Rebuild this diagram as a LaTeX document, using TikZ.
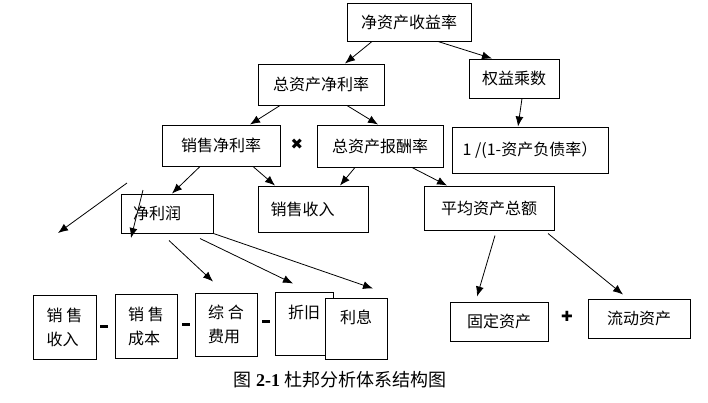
\documentclass[tikz,border=0pt]{standalone}
\usepackage{fontspec}
\setmainfont{Noto Sans CJK SC}
\newfontfamily\symfont{DejaVu Sans}
\newfontfamily\numfont{Liberation Serif}
\usetikzlibrary{arrows.meta}
\tikzset{edge/.style = {->,> = {Latex[length=10pt,width=8pt]}, line width=0.8pt}}

\begin{document}
\begin{tikzpicture}[x=1pt, y=-1pt,
  box/.style={draw, line width=1pt, inner sep=0pt, font=\fontsize{16}{19}\selectfont},
  left box/.style={box, align=left, inner xsep=12pt, text width=#1},
  tall box/.style={box, align=left, font=\fontsize{16}{24}\selectfont},
  op/.style={inner sep=0pt}]
  \useasboundingbox (0,0) rectangle (708,402);

  % top levels
  \node[box, minimum width=124, minimum height=38] (roe) at (409,22) {净资产收益率};
  \node[box, minimum width=126, minimum height=41] (zcjl) at (321,84.5) {总资产净利率};
  \node[box, minimum width=90, minimum height=39] (qycs) at (514,78.5) {权益乘数};
  \node[box, minimum width=118, minimum height=41] (xsjl) at (221,145.5) {销售净利率};
  \node[box, minimum width=126, minimum height=42] (zcbc) at (380,146) {总资产报酬率};
  \node[box, minimum width=156, minimum height=46] (fzl) at (530,150) {1 /(1-资产负债率）};
  \node[left box=85, minimum width=110, minimum height=46] (xssr) at (313,209) {销售收入};
  \node[box, minimum width=130, minimum height=44] (pjzc) at (489,208) {平均资产总额};
  \node[left box=68, minimum width=92, minimum height=39] (jlr) at (167,213.5) {净利润};

  % bottom row
  \node[tall box, minimum width=63, minimum height=64] (b1) at (64.5,327) {销 售\\收入};
  \node[tall box, minimum width=62, minimum height=64] (b2) at (146,326) {销 售\\成本};
  \node[tall box, minimum width=62, minimum height=63] (b3) at (226,324.5) {综 合\\费用};
  \node[tall box, minimum width=58, minimum height=63] (b4) at (304,323.5) {折旧\\ \mbox{}};
  \node[tall box, fill=white, minimum width=62, minimum height=61] (b5) at (356,328.5) {利息\\ \mbox{}};
  \node[box, minimum width=98, minimum height=39] (gdzc) at (499,321.5) {固定资产};
  \node[box, minimum width=102, minimum height=39] (ldzc) at (639,318.5) {流动资产};

  % operators
  \node[op] (m1) at (104,326) {\rule{8pt}{3pt}};
  \node[op] (m2) at (186,324) {\rule{8pt}{3pt}};
  \node[op] (m3) at (266,321) {\rule{8pt}{3pt}};
  \node[op, font=\symfont\fontsize{15}{15}\selectfont] (times) at (297,144) {✖};
  \node[op, font=\symfont\fontsize{14}{14}\selectfont] (plus) at (567,316) {✚};

  % arrows
  \draw[edge] ([xshift=-37pt]roe.south) -- ([xshift=24pt]zcjl.north);
  \draw[edge] ([xshift=29pt]roe.south) -- ([xshift=-22pt]qycs.north);
  \draw[edge] ([xshift=-41pt]zcjl.south) -- ([xshift=29pt]xsjl.north);
  \draw[edge] ([xshift=26pt]zcjl.south) -- ([xshift=-2pt]zcbc.north);
  \draw[edge] ([xshift=8pt]qycs.south) -- ([xshift=-12pt]fzl.north);
  \draw[edge] ([xshift=-21pt]xsjl.south) -- ([xshift=5pt]jlr.north);
  \draw[edge] ([xshift=32pt]xsjl.south) -- ([xshift=-38pt]xssr.north);
  \draw[edge] ([xshift=-25pt]zcbc.south) -- ([xshift=27pt]xssr.north);
  \draw[edge] ([xshift=32pt]zcbc.south) -- ([xshift=-42pt]pjzc.north);
  \draw[edge] ([xshift=2pt,yshift=-7pt]jlr.south) -- ([xshift=-13pt,yshift=11pt]b3.north);
  \draw[edge] ([xshift=33pt,yshift=-5pt]jlr.south) -- ([xshift=-11pt,yshift=8pt]b4.north);
  \draw[edge] (jlr.south east) -- ([xshift=17pt,yshift=9pt]b5.north);
  \draw[edge] ([xshift=6pt,yshift=-5pt]pjzc.south) -- ([xshift=-22pt,yshift=5pt]gdzc.north);
  \draw[edge] ([xshift=59pt,yshift=-3pt]pjzc.south) -- ([xshift=-16pt,yshift=4pt]ldzc.north);

  % loose arrows
  \coordinate (s1) at (127,183);
  \coordinate (e1) at (58,233);
  \coordinate (s2) at (143,190);
  \coordinate (e2) at (131,238);
  \draw[edge] (s1) -- (e1);
  \draw[edge] (s2) -- (e2);

  % caption
  \node[font=\fontsize{18}{20}\selectfont] (cap) at (340,380) {图 {\numfont\bfseries 2-1} 杜邦分析体系结构图};
\end{tikzpicture}
\end{document}
